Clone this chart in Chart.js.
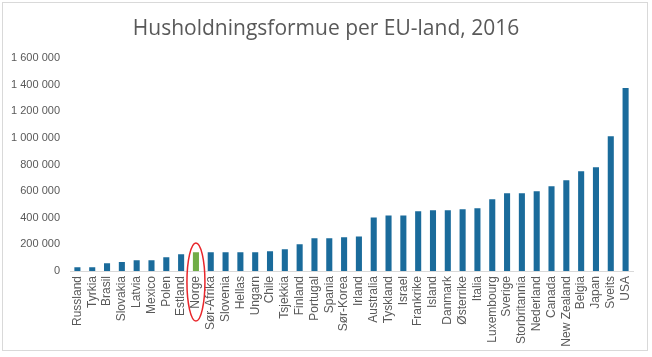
<!DOCTYPE html>
<html>
<head>
<meta charset="utf-8">
<script src="https://cdn.jsdelivr.net/npm/chart.js@4/dist/chart.umd.min.js"></script>
<style>
html,body{margin:0;padding:0;background:#fff;}
canvas{display:block;}
</style>
</head>
<body>
<canvas id="c" width="652" height="357"></canvas>
<script>
const categories = ["Russland","Tyrkia","Brasil","Slovakia","Latvia","Mexico","Polen","Estland","Norge","Sør-Afrika","Slovenia","Hellas","Ungarn","Chile","Tsjekkia","Finland","Portugal","Spania","Sør-Korea","Irland","Australia","Tyskland","Israel","Frankrike","Island","Danmark","Østerrike","Italia","Luxembourg","Sverige","Storbritannia","Nederland","Canada","New Zealand","Belgia","Japan","Sveits","USA"];
const values = [28000,28000,58000,68000,81000,81000,103000,126000,141000,141000,141000,141000,141000,148000,164000,201000,246000,246000,254000,260000,403000,418000,418000,449000,456000,456000,464000,471000,539000,584000,584000,599000,637000,682000,750000,780000,1014000,1376000];
const highlighted = "Norge";
const yTicks = [0,200000,400000,600000,800000,1000000,1200000,1400000,1600000];
const titleText = "Husholdningsformue per EU-land, 2016";

const blue = "#1a6b9b", green = "#70ad47", gray = "#595959";
const barColors = categories.map(c => c === highlighted ? green : blue);

const fmt = v => String(v).replace(/\B(?=(\d{3})+(?!\d))/g, " ");

const framePlugin = {
  id: "frame",
  afterDraw(chart) {
    const ctx = chart.ctx;
    ctx.save();
    ctx.strokeStyle = "#d9d9d9";
    ctx.lineWidth = 1;
    ctx.strokeRect(2.5, 2.5, chart.width - 7, chart.height - 9);
    const xs = chart.scales.x;
    const i = categories.indexOf(highlighted);
    const cx = xs.getPixelForValue(i);
    const bottom = chart.chartArea.bottom;
    const top = bottom - 28, bot = bottom + 50;
    ctx.strokeStyle = "#e8262b";
    ctx.lineWidth = 1.5;
    ctx.beginPath();
    ctx.ellipse(cx, (top + bot) / 2, 9, (bot - top) / 2, 0, 0, Math.PI * 2);
    ctx.stroke();
    ctx.restore();
  }
};

new Chart(document.getElementById("c"), {
  type: "bar",
  data: {
    labels: categories,
    datasets: [{
      data: values,
      backgroundColor: barColors,
      categoryPercentage: 1,
      barPercentage: 0.41
    }]
  },
  options: {
    responsive: false,
    animation: false,
    layout: { padding: 0 },
    plugins: {
      legend: { display: false },
      tooltip: { enabled: false },
      title: {
        display: true,
        text: titleText,
        color: gray,
        font: { family: "'Open Sans', sans-serif", size: 21, weight: "normal", lineHeight: 1.2 },
        padding: { top: 16, bottom: 17 }
      }
    },
    scales: {
      x: {
        grid: { display: false, drawTicks: false },
        border: { display: true, color: "#d9d9d9", width: 1 },
        ticks: {
          color: gray,
          font: { family: "Liberation Sans, Arial, sans-serif", size: 12 },
          minRotation: 90, maxRotation: 90,
          autoSkip: false,
          padding: 5
        },
        afterFit(s) { s.height = 86; }
      },
      y: {
        min: 0, max: 1600000,
        afterBuildTicks(s) { s.ticks = yTicks.map(v => ({ value: v })); },
        grid: { display: false, drawTicks: false },
        border: { display: false },
        ticks: {
          color: gray,
          font: { family: "Liberation Sans, Arial, sans-serif", size: 11 },
          padding: 10,
          callback: v => fmt(v)
        },
        afterFit(s) { s.width = 70; }
      },
      yRight: {
        type: "linear",
        position: "right",
        display: true,
        grid: { display: false, drawTicks: false },
        border: { display: false },
        ticks: { display: false },
        afterFit(s) { s.width = 19; }
      }
    }
  },
  plugins: [framePlugin]
});
</script>
</body>
</html>
